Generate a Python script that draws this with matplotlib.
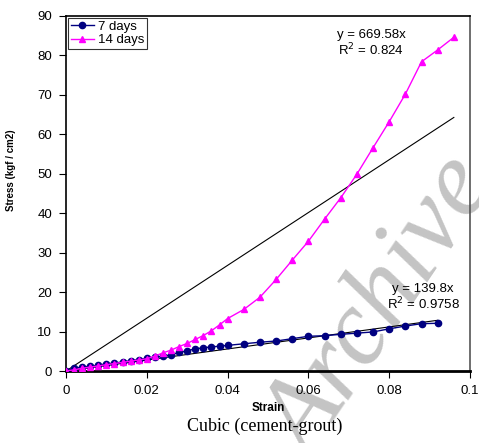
import numpy as np
import matplotlib
matplotlib.use("Agg")
import matplotlib.pyplot as plt

# strain readings (every 0.002 up to 0.04, then every 0.004)
strain_7 = [0, 0.002, 0.004, 0.006, 0.008, 0.010, 0.012, 0.014, 0.016, 0.018,
            0.020, 0.022, 0.024, 0.026, 0.028, 0.030, 0.032, 0.034, 0.036, 0.038,
            0.040, 0.044, 0.048, 0.052, 0.056, 0.060, 0.064, 0.068, 0.072, 0.076,
            0.080, 0.084, 0.088, 0.092]
stress_7 = [0, 0.7, 1.0, 1.2, 1.5, 1.8, 2.0, 2.3, 2.6, 2.9,
            3.2, 3.5, 3.8, 4.1, 4.7, 5.15, 5.6, 5.9, 6.1, 6.3,
            6.5, 6.9, 7.3, 7.6, 8.2, 8.8, 8.95, 9.3, 9.6, 9.9,
            10.7, 11.4, 12.0, 12.1]

strain_14 = [0, 0.002, 0.004, 0.006, 0.008, 0.010, 0.012, 0.014, 0.016, 0.018,
             0.020, 0.022, 0.024, 0.026, 0.028, 0.030, 0.032, 0.034, 0.036, 0.038,
             0.040, 0.044, 0.048, 0.052, 0.056, 0.060, 0.064, 0.068, 0.072, 0.076,
             0.080, 0.084, 0.088, 0.092, 0.096]
stress_14 = [0, 0.3, 0.7, 1.0, 1.3, 1.6, 1.9, 2.2, 2.5, 2.8,
             3.1, 3.8, 4.6, 5.3, 6.2, 7.0, 8.0, 9.0, 10.2, 11.7,
             13.3, 15.6, 18.7, 23.2, 28.1, 32.9, 38.5, 43.9, 49.9, 56.6,
             63.2, 70.2, 78.4, 81.4, 84.6]

# linear trendlines through the origin
slope_7 = 139.8
r2_7 = 0.9758
slope_14 = 669.58
r2_14 = 0.824

plt.rcParams['font.family'] = ['Liberation Sans', 'DejaVu Sans']

fig = plt.figure(figsize=(4.79, 4.43), dpi=100)
ax = fig.add_axes([0.1378, 0.1625, 0.8434, 0.8014])
ax.set_facecolor('none')

# faint watermark behind the axes
fig.text(0.80, 0.30, "Archive", fontsize=78, family='Liberation Serif',
         style='italic', color='#c4c4c4', rotation=56,
         ha='center', va='center', zorder=-1)

ax.plot(strain_7, stress_7, color='#000080', marker='o', markersize=4.5,
        linewidth=1, label='7 days', zorder=3)
ax.plot(strain_14, stress_14, color='#ff00ff', marker='^', markersize=4.5,
        linewidth=1, label='14 days', zorder=3)

x7 = np.array([0, strain_7[-1]])
x14 = np.array([0, strain_14[-1]])
ax.plot(x7, slope_7 * x7, color='black', linewidth=0.8, zorder=2)
ax.plot(x14, slope_14 * x14, color='black', linewidth=0.8, zorder=2)

ax.text(0.0755, 79.4, "y = %.2fx\nR$^2$ = %g" % (slope_14, r2_14), fontsize=9.5,
        ha='center', va='bottom', linespacing=1.05)
ax.text(0.0884, 14.9, "y = %gx\nR$^2$ = %g" % (slope_7, r2_7), fontsize=9.5,
        ha='center', va='bottom', linespacing=1.05)

ax.set_xlim(0, 0.1)
ax.set_ylim(0, 90)
ax.set_xticks([0, 0.02, 0.04, 0.06, 0.08, 0.1])
ax.set_xticklabels(['0', '0.02', '0.04', '0.06', '0.08', '0.1'])
ax.set_yticks(range(0, 91, 10))
ax.tick_params(direction='out', length=5, width=0.8, labelsize=9.5, pad=5)

for side in ['left', 'top']:
    ax.spines[side].set_linewidth(1.2)
ax.spines['right'].set_color('#555555')
ax.spines['right'].set_linewidth(1.2)
ax.spines['bottom'].set_linewidth(2)

ax.set_xlabel('Strain', fontsize=8.5, fontweight='bold', labelpad=4)
ax.set_ylabel('Stress (kgf / cm2)', fontsize=7, fontweight='bold')
ax.yaxis.set_label_coords(-0.125, 0.565)

fig.text(0.553, 0.038, 'Cubic (cement-grout)', fontsize=13,
         family='Liberation Serif', ha='center', va='center')

leg = ax.legend(loc='upper left', fontsize=9.5, frameon=True, fancybox=False,
                edgecolor='black', borderpad=0.2, handlelength=1.8,
                handletextpad=0.3, labelspacing=0.1, borderaxespad=0.15)
leg.get_frame().set_linewidth(0.8)

fig.savefig('out.png', dpi=100)
